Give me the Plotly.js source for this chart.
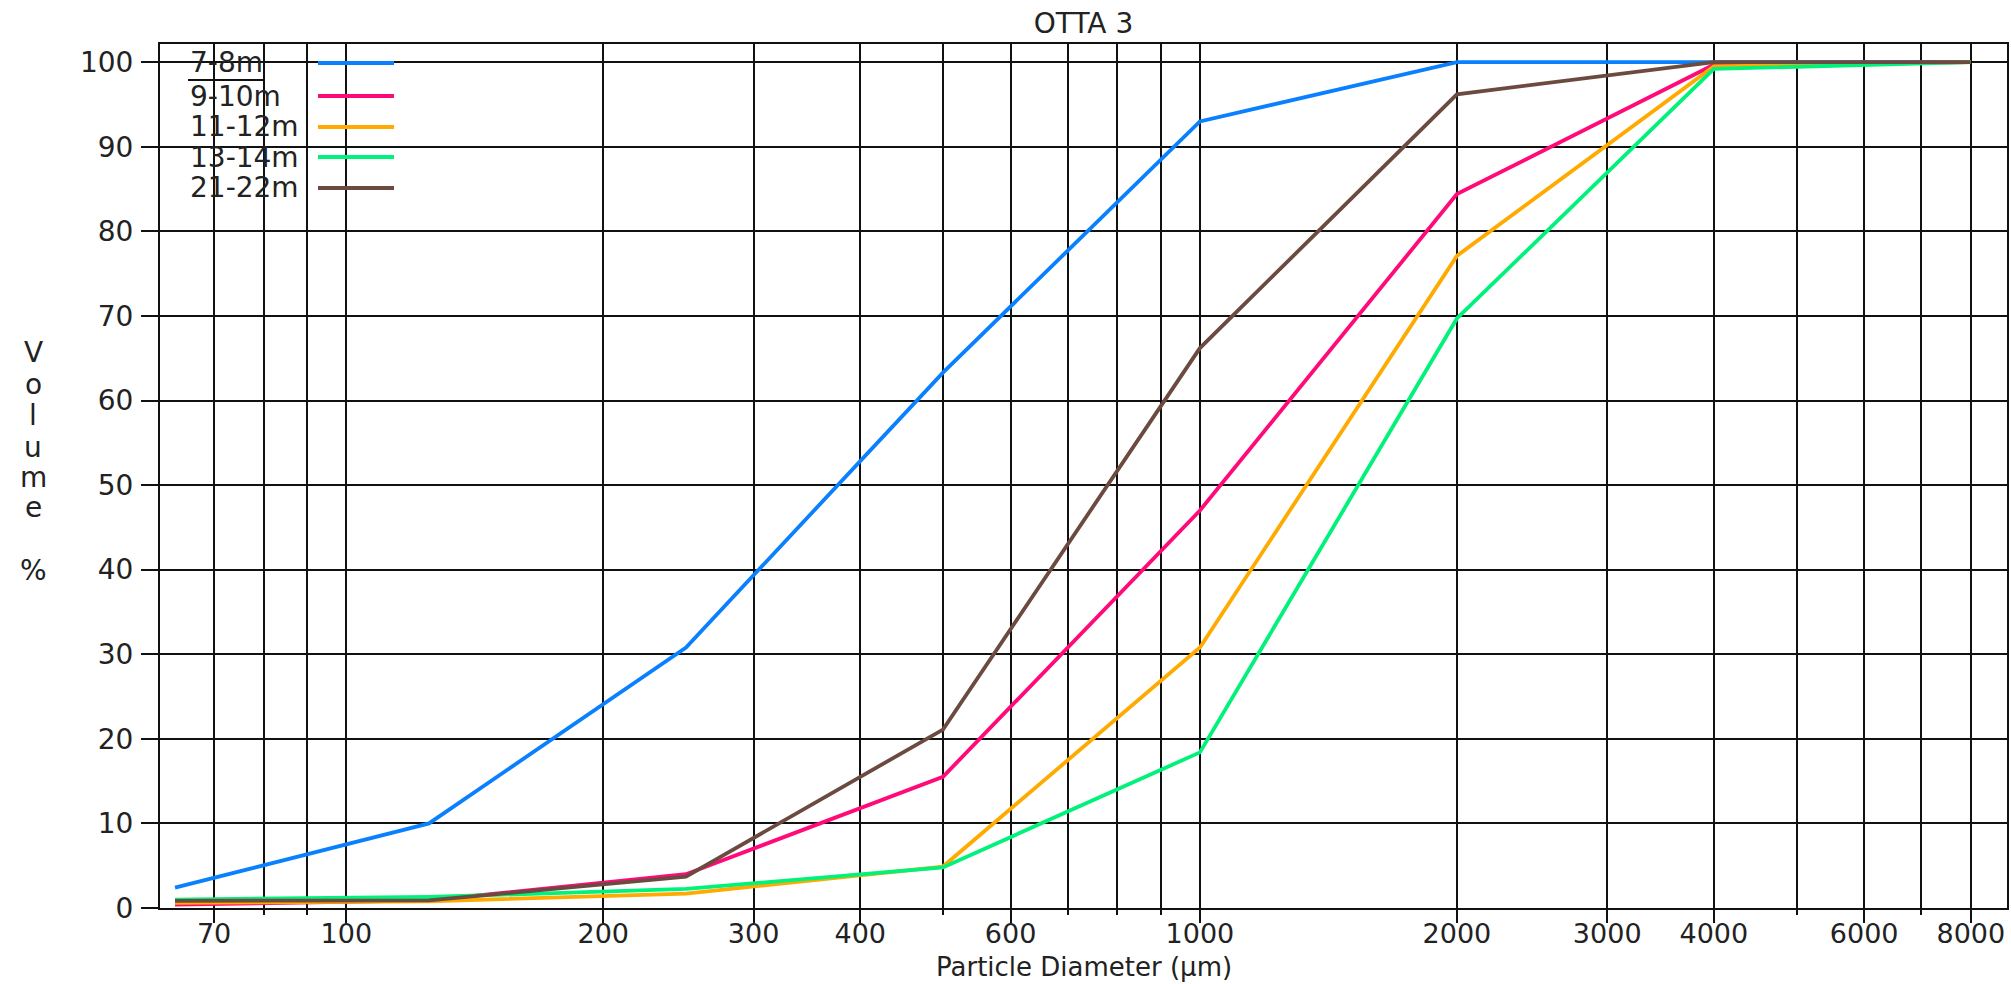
<!DOCTYPE html>
<html>
<head>
<meta charset="utf-8">
<script src="https://cdn.plot.ly/plotly-3.0.1.min.js"></script>
<style>html,body{margin:0;padding:0;background:#fff;}#chart{width:2011px;height:984px;}</style>
</head>
<body>
<div id="chart"></div>
<script>
// ---- data ----
const sizes = [63, 125, 250, 500, 1000, 2000, 4000, 8000];
const seriesNames = ['7-8m', '9-10m', '11-12m', '13-14m', '21-22m'];
const v7_8 = [2.4, 10.0, 30.8, 63.3, 93.0, 100, 100, 100];
const v9_10 = [0.4, 0.9, 4.0, 15.5, 47.0, 84.4, 99.7, 100];
const v11_12 = [0.6, 0.8, 1.7, 4.9, 30.8, 77.1, 99.5, 100];
const v13_14 = [1.0, 1.3, 2.25, 4.8, 18.4, 69.7, 99.2, 100];
const v21_22 = [0.85, 0.9, 3.7, 21.1, 66.2, 96.2, 100, 100];
const seriesValues = [v7_8, v9_10, v11_12, v13_14, v21_22];
const seriesColors = ['#0A80FF', '#FF0A78', '#FFAA00', '#00F27A', '#6B4A40'];
const xMajorTicks = [70, 100, 200, 300, 400, 600, 1000, 2000, 3000, 4000, 6000, 8000];
const xMinorTicks = [80, 90, 500, 700, 800, 900, 5000, 7000];
const yTicks = [0, 10, 20, 30, 40, 50, 60, 70, 80, 90, 100];
const yTitleLetters = ['V', 'o', 'l', 'u', 'm', 'e', '%'];
const xTitle = 'Particle Diameter (µm)';
const chartTitle = 'OTTA 3';

// ---- layout helpers (pixel -> paper) ----
const W = 2011, H = 984;
const M = {l: 160, r: 4, t: 44, b: 76};
const PW = W - M.l - M.r, PH = H - M.t - M.b;
const px = X => (X - M.l) / PW;
const py = Y => (H - M.b - Y) / PH;

const FONT = 'DejaVu Sans, Verdana, sans-serif';
const TXT = '#222222';
const FS = 28;

const traces = seriesValues.map((vals, i) => ({
  x: sizes,
  y: vals,
  name: seriesNames[i],
  type: 'scatter',
  mode: 'lines',
  line: {color: seriesColors[i], width: 3.8},
  hoverinfo: 'x+y+name'
}));

const annotations = [];
const shapes = [];

// legend (text left, line sample right)
const legendRows = [63, 96, 127, 157, 188];
seriesNames.forEach((n, i) => {
  annotations.push({
    text: n, xref: 'paper', yref: 'paper', x: px(188), y: py(legendRows[i]),
    xanchor: 'left', yanchor: 'middle', showarrow: false,
    font: {family: FONT, size: FS, color: TXT}
  });
  shapes.push({
    type: 'line', xref: 'paper', yref: 'paper',
    x0: px(318), x1: px(394), y0: py(legendRows[i]), y1: py(legendRows[i]),
    line: {color: seriesColors[i], width: 3.8}
  });
});
// small underline below the first legend entry
shapes.push({type: 'line', xref: 'paper', yref: 'paper', x0: px(188), x1: px(263),
  y0: py(80), y1: py(80), line: {color: '#111', width: 2}});

// vertical stacked y-axis title
const yTitleY = [353, 384, 415, 447, 477, 508, 570];
yTitleLetters.forEach((c, i) => {
  annotations.push({
    text: c, xref: 'paper', yref: 'paper', x: px(33), y: py(yTitleY[i]),
    xanchor: 'center', yanchor: 'middle', showarrow: false,
    font: {family: FONT, size: FS, color: TXT}
  });
});

// x-axis title
annotations.push({
  text: xTitle, xref: 'paper', yref: 'paper', x: 0.5, y: py(967),
  xanchor: 'center', yanchor: 'middle', showarrow: false, borderpad: 0,
  font: {family: FONT, size: 26, color: TXT}
});

const layout = {
  width: W, height: H,
  margin: M,
  paper_bgcolor: '#fff', plot_bgcolor: '#fff',
  showlegend: false,
  font: {family: FONT, size: FS, color: TXT},
  title: {text: chartTitle, font: {family: FONT, size: FS, color: TXT},
    xref: 'paper', x: 0.5, xanchor: 'center', yref: 'container', y: 1 - 23 / H, yanchor: 'middle'},
  xaxis: {
    type: 'log',
    range: [Math.log10(60.5), Math.log10(8820)],
    tickmode: 'array',
    tickvals: xMajorTicks,
    ticktext: xMajorTicks.map(String),
    ticks: 'outside', ticklen: 13, tickwidth: 2, tickcolor: '#111',
    showgrid: true, gridcolor: '#111', gridwidth: 2,
    minor: {tickmode: 'array', tickvals: xMinorTicks, ticks: 'outside', ticklen: 5,
      tickwidth: 2, tickcolor: '#111', showgrid: true, gridcolor: '#111', gridwidth: 2},
    showline: true, linecolor: '#111', linewidth: 2, mirror: true,
    zeroline: false,
    tickfont: {family: FONT, size: 27, color: TXT},
    ticklabelstandoff: -12,
    automargin: false,
    fixedrange: true
  },
  yaxis: {
    range: [0, 102.15],
    tickmode: 'array',
    tickvals: yTicks,
    ticktext: yTicks.map(String),
    ticks: 'outside', ticklen: 17, tickwidth: 2, tickcolor: '#111',
    showgrid: true, gridcolor: '#111', gridwidth: 2,
    showline: true, linecolor: '#111', linewidth: 2, mirror: true,
    zeroline: false,
    tickfont: {family: FONT, size: FS, color: TXT},
    ticklabelstandoff: 2,
    automargin: false,
    fixedrange: true
  },
  annotations: annotations,
  shapes: shapes
};

Plotly.newPlot('chart', traces, layout, {displayModeBar: false, staticPlot: true});
</script>
</body>
</html>
